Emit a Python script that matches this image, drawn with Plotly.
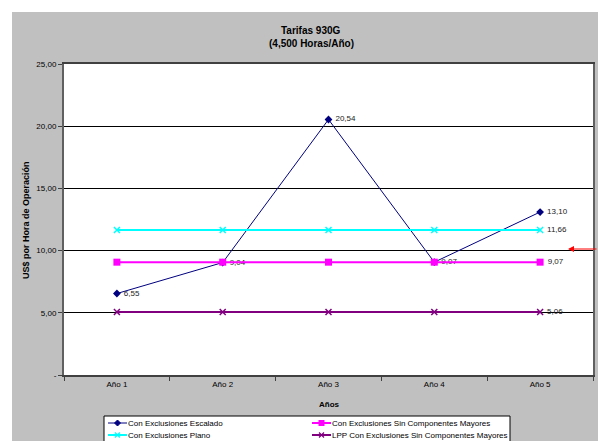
import plotly.graph_objects as go

categories = ["Año 1", "Año 2", "Año 3", "Año 4", "Año 5"]
escalado = [6.55, 9.04, 20.54, 9.07, 13.10]
sin_comp = [9.07, 9.07, 9.07, 9.07, 9.07]
plano = [11.66, 11.66, 11.66, 11.66, 11.66]
lpp = [5.06, 5.06, 5.06, 5.06, 5.06]
series_names = ["Con Exclusiones Escalado", "Con Exclusiones Sin Componentes Mayores",
                "Con Exclusiones Plano", "LPP Con Exclusiones Sin Componentes Mayores"]
series_colors = ["#000080", "#FF00FF", "#00FFFF", "#800080"]
series_symbols = ["diamond", "square", "x", "x"]
y_ticks = [0, 5, 10, 15, 20, 25]
y_tick_labels = ["-", "5,00", "10,00", "15,00", "20,00", "25,00"]

FONT = "Arial, Liberation Sans, sans-serif"
W, H = 598, 441
L, R, T, B = 64, 5, 64, 66
PW, PH = W - L - R, H - T - B


def px2x(px):
    return (px - L) / PW


def px2y(py):
    return (H - B - py) / PH


def fmt(v):
    return " " + f"{v:.2f}".replace(".", ",")


def last_only(vals):
    return [""] * (len(vals) - 1) + [fmt(vals[-1])]


fig = go.Figure()
fig.add_trace(go.Scatter(
    x=categories, y=escalado, name=series_names[0],
    mode="lines+markers+text", text=[fmt(v) for v in escalado],
    textposition="middle right", textfont=dict(size=8, color="#222222", family=FONT),
    line=dict(color=series_colors[0], width=1),
    marker=dict(symbol="diamond", size=6, color=series_colors[0])))
fig.add_trace(go.Scatter(
    x=categories, y=sin_comp, name=series_names[1],
    mode="lines+markers+text", text=last_only(sin_comp),
    textposition="middle right", textfont=dict(size=8, color="#222222", family=FONT),
    line=dict(color=series_colors[1], width=2),
    marker=dict(symbol="square", size=7, color=series_colors[1])))
fig.add_trace(go.Scatter(
    x=categories, y=plano, name=series_names[2],
    mode="lines+markers+text", text=last_only(plano),
    textposition="middle right", textfont=dict(size=8, color="#222222", family=FONT),
    line=dict(color=series_colors[2], width=2),
    marker=dict(symbol="x-thin", size=6, color=series_colors[2],
                line=dict(color=series_colors[2], width=1.5))))
fig.add_trace(go.Scatter(
    x=categories, y=lpp, name=series_names[3],
    mode="lines+markers+text", text=last_only(lpp),
    textposition="middle right", textfont=dict(size=8, color="#222222", family=FONT),
    line=dict(color=series_colors[3], width=2),
    marker=dict(symbol="x-thin", size=6, color=series_colors[3],
                line=dict(color=series_colors[3], width=1.5))))

shapes = [
    dict(type="rect", xref="paper", yref="paper", x0=px2x(-20), x1=px2x(W + 20),
         y0=px2y(12), y1=px2y(-20), fillcolor="white", line=dict(width=0), layer="above"),
    dict(type="rect", xref="paper", yref="paper", x0=px2x(-20), x1=px2x(12),
         y0=px2y(H + 20), y1=px2y(-20), fillcolor="white", line=dict(width=0), layer="above"),
    # legend box
    dict(type="rect", xref="paper", yref="paper", x0=px2x(104), x1=px2x(510),
         y0=px2y(H + 10), y1=px2y(416), fillcolor="white",
         line=dict(color="black", width=1), layer="above"),
]

annotations = [
    dict(text="<b>Tarifas 930G</b>", xref="paper", yref="paper", x=px2x(311), y=px2y(31),
         showarrow=False, font=dict(size=10, family=FONT), yanchor="middle"),
    dict(text="<b>(4,500 Horas/Año)</b>", xref="paper", yref="paper", x=px2x(311), y=px2y(44),
         showarrow=False, font=dict(size=10, family=FONT), yanchor="middle"),
    dict(text="<b>Años</b>", xref="paper", yref="paper", x=px2x(329), y=px2y(404),
         showarrow=False, font=dict(size=8, family=FONT), yanchor="middle"),
    dict(text="<b>US$ por Hora de Operación</b>", xref="paper", yref="paper",
         x=px2x(26), y=px2y(220), textangle=-90, showarrow=False,
         font=dict(size=9, family=FONT), xanchor="center", yanchor="middle"),
    dict(text="", xref="paper", yref="paper", x=px2x(568), y=px2y(249), showarrow=True,
         ax=32, ay=0, arrowcolor="red", arrowwidth=1, arrowhead=2, arrowsize=1.2),
]

# custom legend entries (2 columns x 2 rows)
legend_pos = [(108, 423), (312, 423), (108, 435), (312, 435)]
for name, color, sym, (lx, ly) in zip(series_names, series_colors, series_symbols, legend_pos):
    lw = 1 if sym == "diamond" else 2
    shapes.append(dict(type="line", xref="paper", yref="paper", x0=px2x(lx), x1=px2x(lx + 19),
                       y0=px2y(ly), y1=px2y(ly), line=dict(color=color, width=lw), layer="above"))
    cx = lx + 9.5
    if sym == "diamond":
        path = (f"M {px2x(cx - 3)} {px2y(ly)} L {px2x(cx)} {px2y(ly - 3)} "
                f"L {px2x(cx + 3)} {px2y(ly)} L {px2x(cx)} {px2y(ly + 3)} Z")
        shapes.append(dict(type="path", xref="paper", yref="paper", path=path,
                           fillcolor=color, line=dict(color=color, width=1), layer="above"))
    elif sym == "square":
        shapes.append(dict(type="rect", xref="paper", yref="paper", x0=px2x(cx - 3), x1=px2x(cx + 3),
                           y0=px2y(ly + 3), y1=px2y(ly - 3), fillcolor=color,
                           line=dict(color=color, width=0), layer="above"))
    else:
        for d in (1, -1):
            shapes.append(dict(type="line", xref="paper", yref="paper", x0=px2x(cx - 2.5),
                               x1=px2x(cx + 2.5), y0=px2y(ly - 2.5 * d), y1=px2y(ly + 2.5 * d),
                               line=dict(color=color, width=1.2), layer="above"))
    annotations.append(dict(text=name, xref="paper", yref="paper", x=px2x(lx + 18), y=px2y(ly),
                            xanchor="left", yanchor="middle", showarrow=False,
                            font=dict(size=8, family=FONT, color="black")))

fig.update_layout(
    width=W, height=H,
    margin=dict(l=L, r=R, t=T, b=B, autoexpand=False),
    paper_bgcolor="#C0C0C0", plot_bgcolor="white",
    font=dict(family=FONT, size=8, color="black"),
    showlegend=False,
    xaxis=dict(type="category", tickson="boundaries", ticks="outside", ticklen=4,
               tickcolor="#404040", showgrid=False, showline=True, linecolor="#404040",
               linewidth=2, mirror=True, tickfont=dict(size=8), range=[-0.5, 4.5]),
    yaxis=dict(range=[0, 25], tickvals=y_ticks, ticktext=y_tick_labels, ticks="outside",
               ticklen=4, tickcolor="#404040", showgrid=True, gridcolor="black", gridwidth=1,
               showline=True, linecolor="#606060", linewidth=2, mirror=True,
               tickfont=dict(size=8), zeroline=False),
    shapes=shapes,
    annotations=annotations,
)

fig.write_html("out.html", post_script="document.body.style.margin='0';",
               config={"displayModeBar": False})
